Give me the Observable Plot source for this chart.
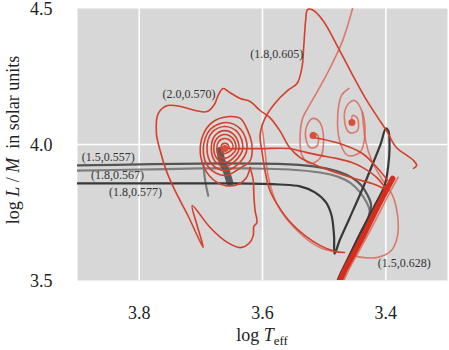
<!DOCTYPE html>
<html><head><meta charset="utf-8">
<script src="https://cdn.jsdelivr.net/npm/d3@7"></script>
<script src="https://cdn.jsdelivr.net/npm/@observablehq/plot@0.6"></script>
<style>body{margin:0;background:#fff;}</style>
</head><body><div id="chart"></div>
<script>
// axis ticks
const xTicks = [3.8, 3.6, 3.4];
const yTicks = [3.5, 4.0, 4.5];
const xDomain = [3.9, 3.3];
const yDomain = [3.5, 4.5];

// gray tracks: [log Teff, log L/M]
const track_15_0557 = [[3.900,3.923],[3.798,3.927],[3.701,3.930],[3.620,3.930],[3.556,3.927],[3.507,3.916],[3.475,3.899],[3.455,3.878],[3.440,3.850],[3.430,3.815],[3.424,3.780],[3.428,3.735],[3.440,3.680],[3.451,3.629],[3.463,3.566],[3.475,3.500],[3.481,3.463]];
const track_18_0567 = [[3.900,3.904],[3.798,3.908],[3.701,3.912],[3.620,3.912],[3.556,3.908],[3.507,3.897],[3.477,3.881],[3.457,3.858],[3.442,3.825],[3.432,3.790],[3.426,3.755],[3.431,3.705],[3.443,3.650],[3.455,3.590],[3.466,3.530],[3.474,3.490],[3.478,3.463]];
const track_18_0577 = [[3.900,3.857],[3.782,3.857],[3.653,3.857],[3.572,3.853],[3.539,3.846],[3.515,3.824],[3.497,3.787],[3.488,3.739],[3.484,3.665],[3.483,3.599],[3.475,3.647],[3.459,3.728],[3.439,3.831],[3.421,3.930],[3.408,4.004],[3.400,4.059],[3.396,4.051],[3.394,3.996],[3.396,3.923],[3.402,3.849],[3.418,3.776],[3.439,3.684],[3.459,3.592],[3.475,3.518],[3.484,3.463]];
const gray_hook_light = [[3.696,3.930],[3.693,3.868],[3.688,3.812]];
const gray_hook_dark = [[3.669,3.978],[3.666,3.941],[3.659,3.904],[3.653,3.860]];

// red track (2.0, 0.570)
const track_20_0570_spiral = [[3.654,3.985],[3.656,4.000],[3.661,4.004],[3.666,4.000],[3.667,3.985],[3.666,3.971],[3.661,3.967],[3.656,3.971],
  [3.648,3.985],[3.651,4.011],[3.661,4.022],[3.671,4.011],[3.674,3.985],[3.671,3.960],[3.661,3.949],[3.651,3.960],
  [3.643,3.985],[3.648,4.022],[3.661,4.037],[3.674,4.022],[3.679,3.985],[3.674,3.949],[3.661,3.934],[3.648,3.949],
  [3.638,3.985],[3.645,4.033],[3.661,4.051],[3.677,4.033],[3.683,3.985],[3.677,3.938],[3.661,3.919],[3.645,3.938],
  [3.632,3.985],[3.640,4.044],[3.661,4.066],[3.682,4.044],[3.690,3.985],[3.682,3.927],[3.661,3.904],[3.640,3.927],
  [3.625,3.985],[3.635,4.055],[3.659,4.081],[3.685,4.055],[3.696,3.985],[3.687,3.915],[3.661,3.886],[3.635,3.915],
  [3.620,3.941],[3.617,3.996],[3.624,4.051],[3.636,4.096],[3.653,4.103],[3.677,4.088],[3.693,4.051],[3.701,3.985],[3.696,3.923],[3.682,3.875],[3.661,3.849],[3.640,3.853],[3.627,3.875],[3.620,3.915]];
const track_20_0570_loop = [[3.620,3.915],[3.615,3.868],[3.614,3.812],[3.612,3.757],[3.609,3.713],[3.614,3.699],[3.615,3.665],[3.622,3.636],[3.636,3.621],[3.657,3.640],[3.685,3.695],[3.714,3.776],[3.706,3.702],[3.696,3.621],[3.721,3.739],[3.742,3.831],[3.756,3.904],[3.766,3.978],[3.772,4.040],[3.769,4.114],[3.754,4.143],[3.733,4.140],[3.709,4.125],[3.690,4.121],[3.678,4.147],[3.672,4.180],[3.664,4.206],[3.653,4.191],[3.636,4.169],[3.620,4.158],[3.604,4.125],[3.588,4.099],[3.572,4.051],[3.556,3.989],[3.539,3.952],[3.527,3.938],[3.491,3.904],[3.451,3.875],[3.418,3.853],[3.397,3.831]];
const track_20_0570_branch = [[3.661,3.985],[3.604,3.985],[3.556,3.985],[3.535,3.974],[3.507,3.960],[3.480,3.949],[3.455,3.934],[3.438,3.916],[3.415,3.879],[3.400,3.838]];

// red track (1.8, 0.605)
const track_18_0605 = [[3.467,3.603],[3.483,3.607],[3.507,3.629],[3.531,3.665],[3.556,3.717],[3.575,3.776],[3.588,3.831],[3.596,3.904],[3.601,3.978],[3.604,4.033],[3.596,4.096],[3.580,4.151],[3.559,4.199],[3.544,4.224],[3.536,4.283],[3.533,4.364],[3.530,4.456],[3.527,4.496],[3.520,4.496],[3.502,4.456],[3.475,4.346],[3.451,4.243],[3.431,4.162],[3.413,4.099],[3.399,4.051],[3.383,3.989],[3.366,3.960],[3.355,3.941],[3.350,3.923],[3.355,3.912]];

// light red track (1.5, 0.628)
const track_15_0628_a = [[3.454,4.500],[3.470,4.382],[3.491,4.279],[3.510,4.199],[3.527,4.132],[3.535,4.096],[3.539,4.033],[3.536,3.960],[3.523,3.930],[3.507,3.949],[3.501,4.015],[3.507,4.081],[3.518,4.096],[3.528,4.070],[3.530,4.026],[3.523,3.989],[3.512,3.993],[3.510,4.033],[3.518,4.044]];
const track_15_0628_b = [[3.460,4.206],[3.472,4.180],[3.478,4.107],[3.475,4.015],[3.462,3.960],[3.442,3.971],[3.434,4.033],[3.438,4.118],[3.451,4.162],[3.463,4.143],[3.467,4.088],[3.459,4.044],[3.446,4.051],[3.446,4.096],[3.454,4.107],[3.455,4.081]];
const track_15_0628_c = [[3.438,4.118],[3.433,4.015],[3.423,3.941],[3.407,3.875],[3.389,3.812],[3.381,3.739],[3.381,3.665],[3.391,3.610],[3.413,3.585],[3.439,3.585],[3.459,3.596]];
const track_15_0628_d = [[3.601,4.070],[3.596,3.978],[3.591,3.886],[3.577,3.783],[3.544,3.684],[3.507,3.621],[3.483,3.607]];
const track_15_0628_e = [[3.518,4.026],[3.480,4.007],[3.438,3.967],[3.413,3.912],[3.397,3.868]];
const track_15_0628_f = [[3.380,3.880],[3.392,3.830],[3.408,3.760],[3.425,3.685],[3.443,3.610],[3.460,3.540],[3.472,3.480]];
const giantBranch = [[3.389,3.875],[3.402,3.820],[3.418,3.750],[3.434,3.676],[3.451,3.603],[3.467,3.537],[3.480,3.471]];
const spiralCentres = [[3.661,3.985],[3.518,4.033],[3.455,4.081]];

const labels = [
  {t:"(2.0,0.570)", x:3.719, y:4.184},
  {t:"(1.8,0.605)", x:3.577, y:4.331},
  {t:"(1.5,0.557)", x:3.850, y:3.952},
  {t:"(1.8,0.567)", x:3.835, y:3.886},
  {t:"(1.8,0.577)", x:3.806, y:3.824},
  {t:"(1.5,0.628)", x:3.370, y:3.563}
];

const rows = (arr, seg) => arr.map(([x, y]) => ({x, y, seg}));
const grayDark = [...rows(track_15_0557, "a")];
const grayLight = [...rows(track_18_0567, "b"), ...rows(gray_hook_light, "h")];
const grayDarkest = [...rows(track_18_0577, "c")];
const redSolid = [...rows(track_20_0570_spiral, "s"), ...rows(track_20_0570_loop, "l"), ...rows(track_20_0570_branch, "b"), ...rows(track_18_0605, "t"), ...rows(track_15_0628_e, "e")];
const redLight = [...rows(track_15_0628_a, "a"), ...rows(track_15_0628_b, "b"), ...rows(track_15_0628_c, "c"), ...rows(track_15_0628_d, "d"), ...rows(track_15_0628_f, "f")];

const W = 449, H = 350;
const plot = Plot.plot({
  width: W, height: H,
  marginLeft: 77, marginRight: 2, marginTop: 8, marginBottom: 70,
  style: {fontFamily: "'Liberation Serif', serif", background: "#fff", color: "#222", overflow: "visible"},
  x: {domain: xDomain, ticks: xTicks, label: null},
  y: {domain: yDomain, ticks: yTicks, label: null},
  marks: [
    Plot.frame({fill: "#d7d7d7", stroke: null}),
    Plot.gridX(xTicks, {stroke: "#fff", strokeOpacity: 1, strokeWidth: 1.5}),
    Plot.gridY([4.0], {stroke: "#fff", strokeOpacity: 1, strokeWidth: 1.5}),
    Plot.axisX(xTicks, {tickSize: 0, tickPadding: 26, fontSize: 18, label: null, tickFormat: d3.format(".1f")}),
    Plot.axisY(yTicks, {tickSize: 0, tickPadding: 25, fontSize: 18, label: null, dy: 1, tickFormat: d3.format(".1f")}),
    Plot.line(redLight, {x: "x", y: "y", z: "seg", stroke: "#dc5a48", strokeOpacity: 0.75, strokeWidth: 1.6, curve: "catmull-rom", clip: true}),
    Plot.line(grayLight, {x: "x", y: "y", z: "seg", stroke: "#7d7d7d", strokeWidth: 2.2, curve: "catmull-rom", clip: true}),
    Plot.line(gray_hook_dark, {x: d => d[0], y: d => d[1], stroke: "#5a5a5a", strokeWidth: 7, curve: "catmull-rom"}),
    Plot.line(grayDark, {x: "x", y: "y", z: "seg", stroke: "#555", strokeWidth: 2.2, curve: "catmull-rom", clip: true}),
    Plot.line(grayDarkest, {x: "x", y: "y", z: "seg", stroke: "#383838", strokeWidth: 2.2, curve: "catmull-rom", clip: true}),
    Plot.line(redSolid, {x: "x", y: "y", z: "seg", stroke: "#d43f2b", strokeWidth: 1.6, curve: "catmull-rom", clip: true}),
    Plot.line(giantBranch, {x: d => d[0], y: d => d[1], stroke: "#d52c1c", strokeWidth: 5.5, clip: true}),
    Plot.dot(spiralCentres, {x: d => d[0], y: d => d[1], r: 3.5, fill: "#d8503c", stroke: null}),
    Plot.text(labels, {x: "x", y: "y", text: "t", fontSize: 12, fill: "#333"})
  ]
});
document.getElementById("chart").appendChild(plot);

const svg = d3.select(plot);
const xl = svg.append("text").attr("x", 262).attr("y", 341).attr("text-anchor", "middle")
  .attr("font-size", 18).attr("fill", "#222").attr("font-family", "'Liberation Serif', serif");
xl.append("tspan").text("log ");
xl.append("tspan").attr("font-style", "italic").text("T");
xl.append("tspan").attr("font-size", 13).attr("dy", 4).text("eff");
const yl = svg.append("text").attr("transform", "translate(19,140) rotate(-90)").attr("text-anchor", "middle")
  .attr("font-size", 18).attr("fill", "#222").attr("font-family", "'Liberation Serif', serif");
yl.append("tspan").text("log ");
yl.append("tspan").attr("font-style", "italic").text("L");
yl.append("tspan").text(" / ");
yl.append("tspan").attr("font-style", "italic").text("M");
yl.append("tspan").text("  in solar units");
</script>
</body></html>
